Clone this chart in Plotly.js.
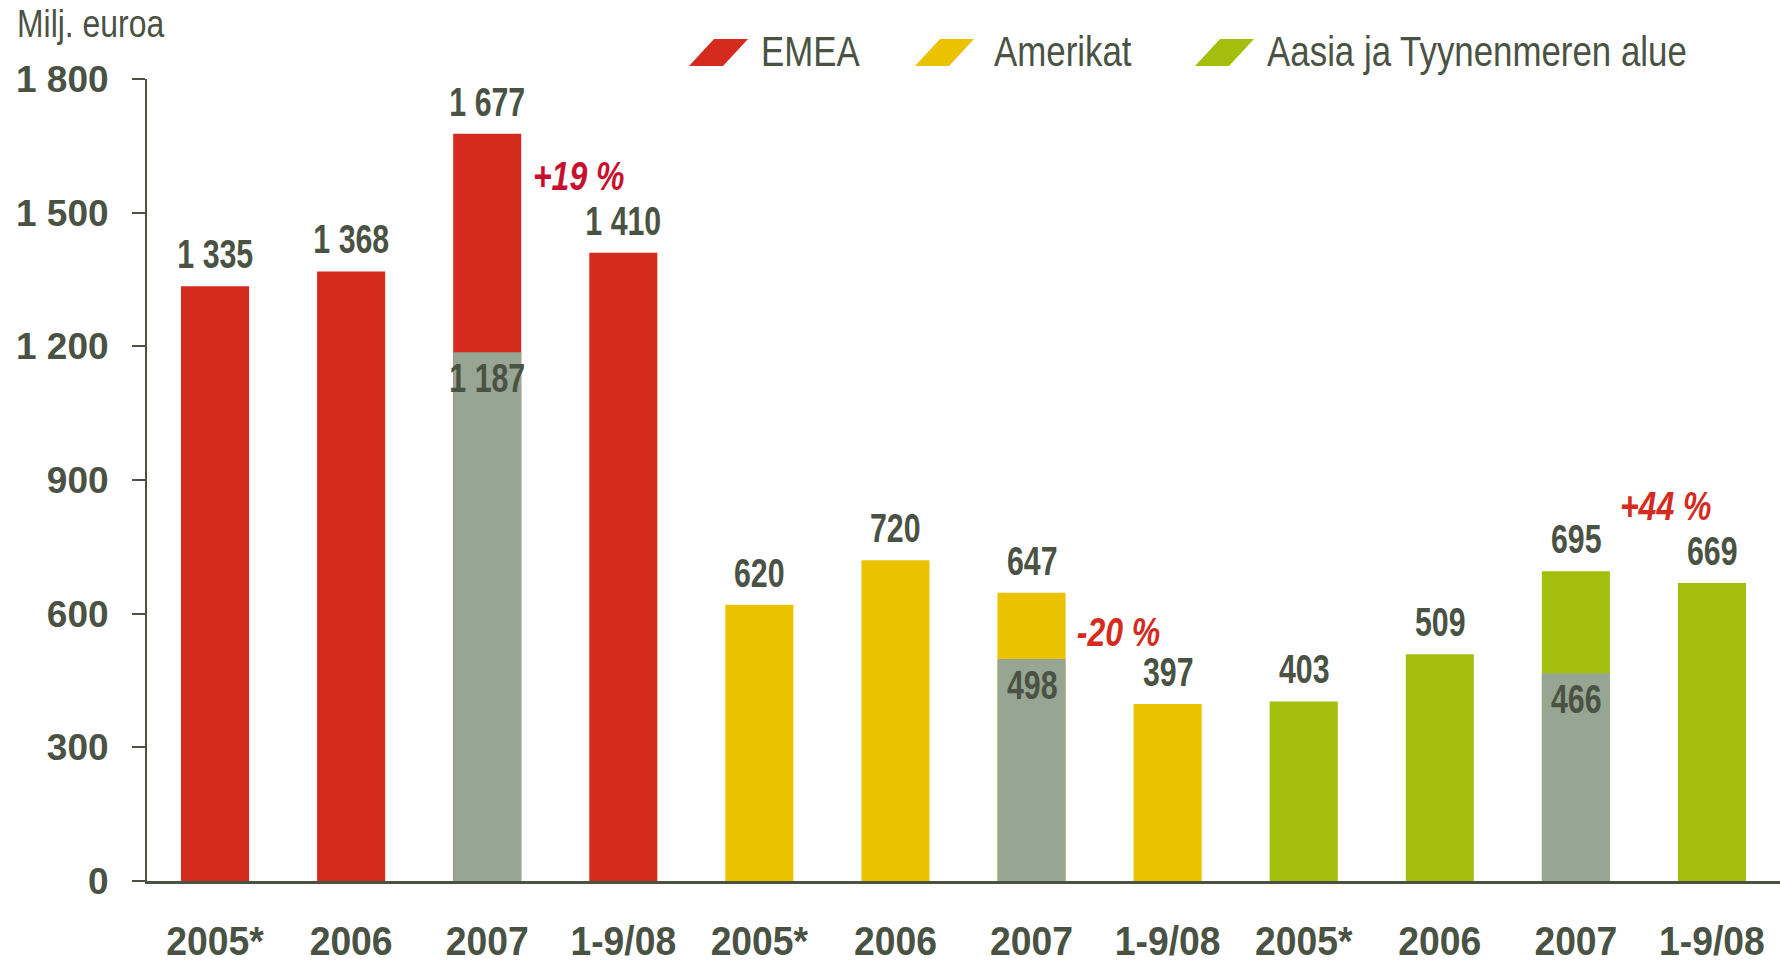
<!DOCTYPE html>
<html>
<head>
<meta charset="utf-8">
<script src="https://cdn.plot.ly/plotly-3.0.1.min.js"></script>
<style>
  html, body { margin: 0; padding: 0; background: #ffffff; }
  #chart { width: 1780px; height: 960px; }
</style>
</head>
<body>
<div id="chart"></div>
<script>
// ---- Data ----
const regions = ['EMEA', 'Amerikat', 'Aasia ja Tyynenmeren alue'];
const periods = ['2005*', '2006', '2007', '1-9/08'];
const emea = [1335, 1368, 1677, 1410];
const amerikat = [620, 720, 647, 397];
const aasia = [403, 509, 695, 669];
// Comparable 1-9/2007 figure shown inside the 2007 bar of each region
const comparable2007 = [1187, 498, 466];
const yTickVals = [0, 300, 600, 900, 1200, 1500, 1800];
const unitLabel = 'Milj. euroa';

// ---- Style ----
const regionColors = ['#D52B1F', '#EBC200', '#A3BE0C'];
const grayColor = '#97A593';
const textColor = '#4A5244';
const pctColors = ['#C8102E', '#D52B1F', '#D52B1F'];
const SANS = '"Liberation Sans", Arial, sans-serif';
const VALUE_SQUEEZE = 0.74;  // emulate a narrow bold face
const PCT_SQUEEZE = 0.78;
const TICK_SQUEEZE = 0.91;
const UNIT_SQUEEZE = 0.84;
const LEG_SQUEEZE = 0.83;

const W = 1780, H = 960;
const M = { l: 147, r: 0, t: 79, b: 79 };
const plotW = W - M.l - M.r, plotH = H - M.t - M.b;
const px2x = px => (px - M.l) / plotW;
const py2y = py => (H - M.b - py) / plotH;

const fmt = v => String(v).replace(/\B(?=(\d{3})+(?!\d))/g, ' ');

const series = [emea, amerikat, aasia];
const traces = [];
const annotations = [];
const squeeze = [];      // per-annotation horizontal squeeze factor
const tickVals = [], tickText = [];

function addAnn(a, s) { annotations.push(a); squeeze.push(s); }

series.forEach((vals, r) => {
  const xs = vals.map((_, p) => r * periods.length + p);
  xs.forEach((x, p) => { tickVals.push(x); tickText.push(periods[p]); });
  traces.push({
    type: 'bar', name: regions[r], x: xs, y: vals, width: 0.5,
    marker: { color: regionColors[r], line: { width: 0 } },
    hoverinfo: 'skip', showlegend: false
  });
  vals.forEach((v, p) => {
    addAnn({
      x: xs[p], y: v, xref: 'x', yref: 'y', text: fmt(v), showarrow: false,
      yanchor: 'bottom', yshift: 7,
      font: { family: SANS, size: 41, color: textColor, weight: 700 }
    }, VALUE_SQUEEZE);
  });
});

// gray comparable part
const grayX = comparable2007.map((_, r) => r * periods.length + 2);
traces.push({
  type: 'bar', name: '1-9/07', x: grayX, y: comparable2007, width: 0.5,
  marker: { color: grayColor, line: { width: 0 } }, hoverinfo: 'skip', showlegend: false
});
comparable2007.forEach((v, r) => {
  addAnn({
    x: grayX[r], y: v, xref: 'x', yref: 'y', text: fmt(v), showarrow: false,
    yanchor: 'top', yshift: -1,
    font: { family: SANS, size: 41, color: textColor, weight: 700 }
  }, VALUE_SQUEEZE);
});

// growth labels (1-9/08 vs 1-9/07)
const pctPos = [[2.67, 1583], [6.64, 558], [10.66, 841]];
series.forEach((vals, r) => {
  const g = Math.round((vals[3] / comparable2007[r] - 1) * 100);
  addAnn({
    x: pctPos[r][0], y: pctPos[r][1], xref: 'x', yref: 'y',
    text: (g > 0 ? '+' : '') + g + ' %', showarrow: false,
    xanchor: 'center', yanchor: 'middle',
    font: { family: SANS, size: 41, color: pctColors[r], weight: 700, style: 'italic' }
  }, PCT_SQUEEZE);
});

// unit label
addAnn({
  x: px2x(15), y: py2y(24), xref: 'paper', yref: 'paper', text: unitLabel,
  showarrow: false, xanchor: 'left', yanchor: 'middle',
  font: { family: SANS, size: 38, color: textColor }
}, UNIT_SQUEEZE);

// custom legend with parallelogram swatches
const legSwatchX = [689, 915, 1195];
const legTextX = [759, 992, 1265];
const shapes = [];
regions.forEach((name, r) => {
  shapes.push({
    type: 'path', xref: 'paper', yref: 'paper',
    xsizemode: 'pixel', ysizemode: 'pixel',
    xanchor: px2x(legSwatchX[r]), yanchor: py2y(66),
    path: 'M 0 0 L 34 0 L 59 27 L 25 27 Z',
    fillcolor: regionColors[r], line: { width: 0 }
  });
  addAnn({
    x: px2x(legTextX[r]), y: py2y(52), xref: 'paper', yref: 'paper', text: name,
    showarrow: false, xanchor: 'left', yanchor: 'middle',
    font: { family: SANS, size: 42, color: textColor }
  }, LEG_SQUEEZE);
});

const layout = {
  width: W, height: H, margin: M,
  paper_bgcolor: '#ffffff', plot_bgcolor: '#ffffff',
  barmode: 'overlay', showlegend: false,
  xaxis: {
    range: [-0.5, 11.5], tickmode: 'array', tickvals: tickVals, ticktext: tickText,
    showgrid: false, zeroline: false, showline: true, linecolor: textColor, linewidth: 3,
    ticks: '', ticklabelstandoff: 22,
    tickfont: { family: SANS, size: 41, color: textColor, weight: 700 }, fixedrange: true
  },
  yaxis: {
    range: [0, 1800], tickmode: 'array', tickvals: yTickVals, ticktext: yTickVals.map(fmt),
    showgrid: false, zeroline: false, showline: true, linecolor: textColor, linewidth: 2,
    ticks: 'outside', ticklen: 13, tickwidth: 2, tickcolor: textColor, ticklabelstandoff: 16,
    tickfont: { family: SANS, size: 37, color: textColor, weight: 700 }, fixedrange: true
  },
  annotations: annotations,
  shapes: shapes
};

function squeezeText(el, s, origin) {
  const bb = el.getBBox();
  const ox = origin === 'left' ? bb.x : origin === 'right' ? bb.x + bb.width : bb.x + bb.width / 2;
  const prev = el.getAttribute('transform') || '';
  el.setAttribute('transform', (prev + ' translate(' + ox + ',0) scale(' + s + ',1) translate(' + (-ox) + ',0)').trim());
}

Plotly.newPlot('chart', traces, layout, { displayModeBar: false, staticPlot: true }).then(gd => {
  gd.querySelectorAll('g.annotation').forEach(g => {
    const i = +g.getAttribute('data-index');
    const t = g.querySelector('text.annotation-text');
    if (!t || isNaN(i)) return;
    squeezeText(t, squeeze[i], annotations[i].xanchor === 'left' ? 'left' : 'center');
  });
  gd.querySelectorAll('g.xtick text').forEach(t => squeezeText(t, TICK_SQUEEZE, 'center'));
});
</script>
</body>
</html>
